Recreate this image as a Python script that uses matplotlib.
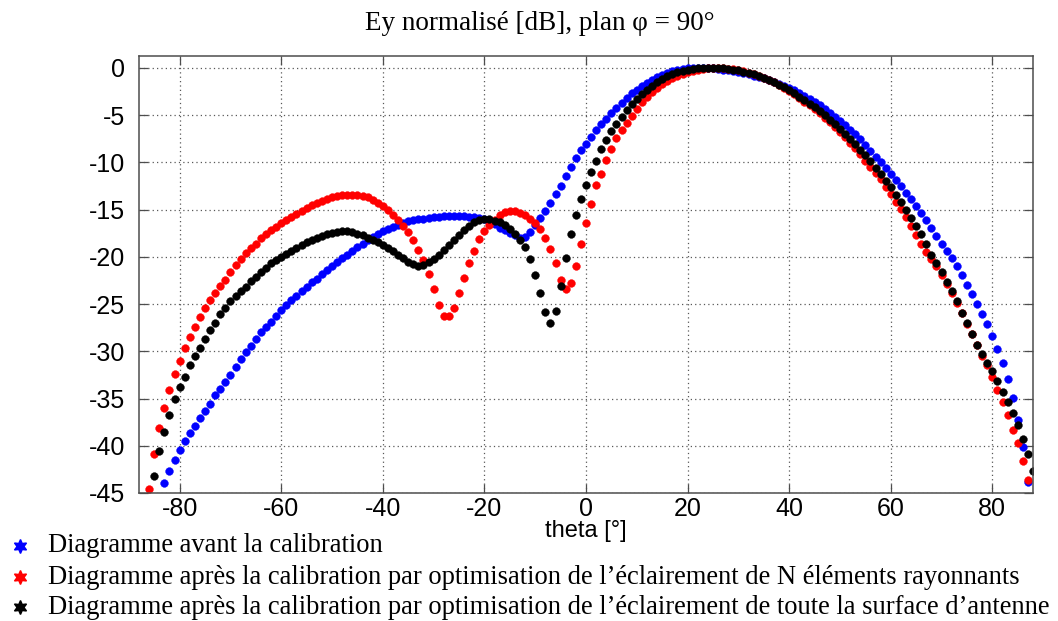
import numpy as np
import matplotlib
matplotlib.use("Agg")
import matplotlib.pyplot as plt
from matplotlib.lines import Line2D

# ---------------- data (dB, one value per degree) ----------------
theta_blue_start = -83
blue = [-43.9, -42.7, -41.5, -40.5, -39.5, -38.7, -37.95, -37.1, -36.3, -35.55,
        -34.6, -33.95, -33.2, -32.5, -31.7, -30.8, -30.05, -29.4, -28.7, -27.95,
        -27.4, -26.85, -26.25, -25.65, -25.1, -24.6, -24.15, -23.65, -23.15, -22.7,
        -22.3, -21.85, -21.4, -21.0, -20.55, -20.15, -19.75, -19.35, -18.95, -18.6,
        -18.25, -17.9, -17.55, -17.25, -17.0, -16.8, -16.6, -16.4, -16.25, -16.1,
        -16.0, -15.95, -15.88, -15.82, -15.77, -15.72, -15.7, -15.68, -15.68, -15.7,
        -15.75, -15.82, -15.9, -16.0, -16.2, -16.55, -16.9, -17.2, -17.45, -17.7,
        -17.95, -17.85, -17.35, -16.65, -15.9, -15.1, -14.25, -13.35, -12.45, -11.45,
        -10.45, -9.5, -8.7, -8.0, -7.3, -6.55, -5.9, -5.35, -4.75, -4.25,
        -3.75, -3.2, -2.7, -2.3, -1.95, -1.6, -1.3, -1.0, -0.75, -0.5,
        -0.32, -0.18, -0.08, -0.02, 0.02, 0.03, 0.02, 0.0, -0.04, -0.1,
        -0.16, -0.24, -0.32, -0.42, -0.54, -0.66, -0.8, -0.95, -1.1, -1.28,
        -1.46, -1.66, -1.88, -2.1, -2.36, -2.64, -2.94, -3.26, -3.6, -3.96,
        -4.34, -4.74, -5.16, -5.6, -6.06, -6.54, -7.04, -7.56, -8.2, -8.8,
        -9.4, -10.0, -10.6, -11.2, -11.85, -12.5, -13.2, -13.9, -14.6, -15.35,
        -16.1, -16.9, -17.75, -18.6, -19.4, -20.1, -20.95, -21.95, -22.95, -23.9,
        -25.0, -26.0, -27.15, -28.4, -29.75, -31.2, -32.95, -34.9, -37.25, -40.15,
        -43.85]

theta_red_start = -86
red = [-44.6, -40.9, -38.1, -36.0, -34.1, -32.4, -31.0, -29.7, -28.5, -27.4,
       -26.4, -25.4, -24.55, -23.8, -23.1, -22.4, -21.65, -20.9, -20.2, -19.6,
       -19.1, -18.6, -18.05, -17.6, -17.2, -16.8, -16.45, -16.1, -15.75, -15.45,
       -15.15, -14.85, -14.55, -14.3, -14.1, -13.9, -13.7, -13.55, -13.45, -13.4,
       -13.4, -13.45, -13.55, -13.7, -13.95, -14.25, -14.6, -15.05, -15.55, -16.1,
       -16.7, -17.35, -18.2, -19.3, -20.3, -21.8, -23.4, -25.1, -26.3, -26.3,
       -25.4, -23.8, -22.2, -20.65, -19.35, -18.15, -17.3, -16.6, -16.05, -15.6,
       -15.3, -15.15, -15.15, -15.35, -15.6, -15.95, -16.45, -17.1, -18.0, -19.15,
       -20.7, -22.5, -23.35, -22.8, -21.0, -18.6, -16.4, -14.35, -12.4, -11.2,
       -9.75, -8.6, -7.45, -6.6, -5.8, -5.05, -4.3, -3.6, -3.05, -2.5,
       -2.1, -1.7, -1.4, -1.1, -0.85, -0.62, -0.42, -0.28, -0.16, -0.08,
       -0.02, 0.02, 0.03, 0.0, -0.06, -0.14, -0.24, -0.36, -0.5, -0.66,
       -0.84, -1.04, -1.26, -1.5, -1.8, -2.1, -2.45, -2.8, -3.15, -3.55,
       -3.95, -4.35, -4.8, -5.25, -5.7, -6.2, -6.8, -7.35, -7.9, -8.5,
       -9.15, -9.8, -10.45, -11.1, -11.8, -12.55, -13.35, -14.15, -14.95, -15.8,
       -16.7, -17.65, -18.6, -19.5, -20.2, -21.0, -21.9, -22.85, -23.85, -24.9,
       -25.95, -27.1, -28.2, -29.3, -30.45, -31.5, -32.75, -34.05, -35.35, -36.75,
       -38.3, -39.75, -41.6, -43.65]

theta_black_start = -85
black = [-43.2, -40.6, -38.5, -36.7, -35.1, -33.8, -32.7, -31.5, -30.5, -29.6,
         -28.7, -27.75, -26.95, -26.1, -25.4, -24.7, -24.1, -23.65, -23.15, -22.55,
         -22.1, -21.6, -21.15, -20.7, -20.3, -20.0, -19.7, -19.4, -19.05, -18.75,
         -18.45, -18.2, -17.95, -17.75, -17.6, -17.45, -17.35, -17.3, -17.3, -17.4,
         -17.55, -17.7, -17.95, -18.2, -18.45, -18.75, -19.05, -19.35, -19.75, -20.15,
         -20.5, -20.8, -20.95, -20.85, -20.55, -20.2, -19.75, -19.25, -18.75, -18.2,
         -17.7, -17.2, -16.75, -16.35, -16.1, -15.95, -16.0, -16.15, -16.35, -16.6,
         -17.0, -17.55, -18.2, -19.0, -20.2, -21.9, -23.8, -25.8, -27.0, -25.7,
         -23.05, -20.1, -17.6, -15.6, -13.85, -12.35, -11.0, -9.8, -8.55, -7.6,
         -6.7, -5.9, -5.2, -4.45, -3.8, -3.25, -2.8, -2.35, -1.9, -1.5,
         -1.2, -0.9, -0.65, -0.45, -0.3, -0.17, -0.08, -0.02, 0.02, 0.04,
         0.04, 0.02, -0.02, -0.08, -0.16, -0.26, -0.38, -0.52, -0.68, -0.86,
         -1.06, -1.28, -1.52, -1.78, -2.06, -2.36, -2.68, -3.02, -3.38, -3.76,
         -4.16, -4.58, -5.02, -5.48, -5.96, -6.46, -6.98, -7.52, -8.08, -8.66,
         -9.26, -9.9, -10.55, -11.25, -11.95, -12.65, -13.4, -14.2, -15.0, -15.85,
         -16.7, -17.6, -18.65, -19.75, -20.7, -21.65, -22.65, -23.65, -24.7, -25.9,
         -27.0, -28.2, -29.3, -30.3, -31.2, -32.05, -33.15, -34.3, -35.35, -36.55,
         -37.75, -39.3, -40.85, -42.7, -44.8]

series_labels = [
    "Diagramme avant la calibration",
    "Diagramme après la calibration par optimisation de l\u2019éclairement de N éléments rayonnants",
    "Diagramme après la calibration par optimisation de l\u2019éclairement de toute la surface d\u2019antenne",
]
series_colors = ["#0000ff", "#ff0000", "#000000"]
xticks = [-80, -60, -40, -20, 0, 20, 40, 60, 80]
yticks = [0, -5, -10, -15, -20, -25, -30, -35, -40, -45]
title_text = "Ey normalisé [dB], plan \u03c6 = 90°"
xlabel_text = "theta [°]"

# ---------------- figure ----------------
W, H = 1058, 621
fig = plt.figure(figsize=(W / 100, H / 100), dpi=100)
ax = fig.add_axes([139 / W, 1 - 493 / H, (1033 - 139) / W, (493 - 56) / H])

series = [(theta_blue_start, blue), (theta_red_start, red), (theta_black_start, black)]
for (start, vals), col in zip(series, series_colors):
    th = np.arange(start, start + len(vals))
    ax.plot(th, vals, linestyle="none", marker="o", markersize=5.6,
            markerfacecolor=col, markeredgecolor=col, markeredgewidth=0.3)

ax.set_xlim(-88, 88)
ax.set_ylim(-45, 1.27)
ax.set_xticks(xticks)
ax.set_yticks(yticks)
ax.set_xticklabels([str(v) for v in xticks])
ax.set_yticklabels([str(v) for v in yticks])

sans = ["Liberation Sans", "DejaVu Sans"]
serif = ["Liberation Serif", "DejaVu Serif"]
for lab in ax.get_xticklabels() + ax.get_yticklabels():
    lab.set_fontfamily(sans)
    lab.set_fontsize(18)

ax.tick_params(axis="both", which="major", direction="in", length=6.5, width=0.9,
               color="0.3", top=True, right=True)
ax.tick_params(axis="x", pad=3)
ax.tick_params(axis="y", pad=10)
for sp in ax.spines.values():
    sp.set_color("0.3")
    sp.set_linewidth(1.1)

ax.grid(True, linestyle=(0, (1, 2.5)), linewidth=0.9, color="0.35")
ax.set_axisbelow(True)

ax.set_xlabel(xlabel_text, fontfamily=sans, fontsize=17, labelpad=-1)
fig.text(540 / W, 1 - 23 / H, title_text, ha="center", va="center",
         fontfamily=serif, fontsize=19.5)

# legend below the axes (manual, left aligned)
leg_y = [546, 577, 607]
for lbl, col, yy in zip(series_labels, series_colors, leg_y):
    fig.add_artist(Line2D([20 / W], [1 - yy / H], transform=fig.transFigure,
                          marker=(6, 1, 0), markersize=10, color=col,
                          markeredgecolor=col, linestyle="none"))
    fig.text(48 / W, 1 - yy / H, lbl, ha="left", va="center",
             fontfamily=serif, fontsize=19.1)

fig.savefig("out.png", dpi=100)
